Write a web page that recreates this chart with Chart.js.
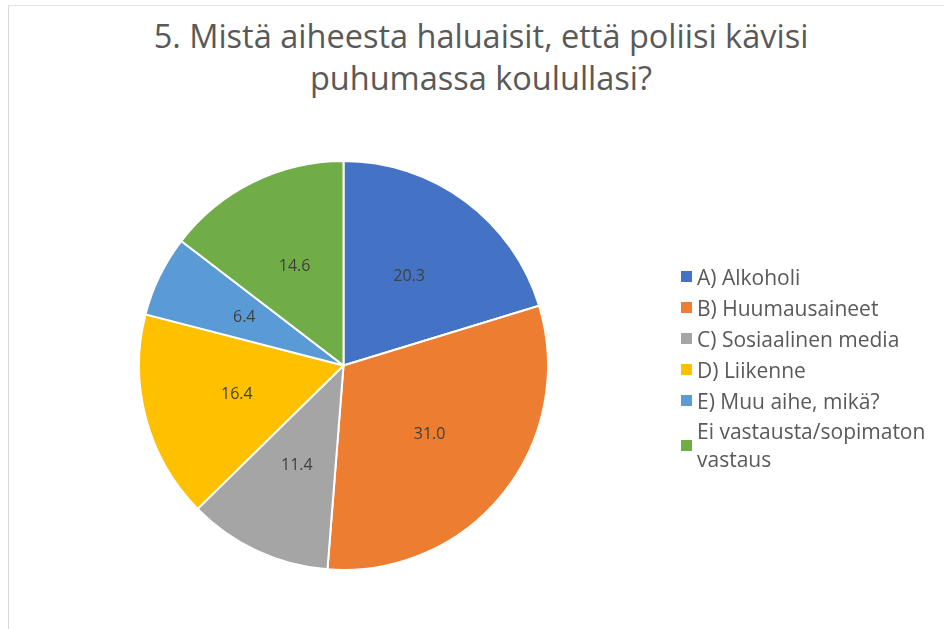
<!DOCTYPE html>
<html>
<head>
<meta charset="utf-8">
<script src="https://cdn.jsdelivr.net/npm/chart.js@4"></script>
<style>
  body { margin: 0; background: #fff; font-family: "Open Sans", Calibri, sans-serif; }
  #wrap { position: relative; width: 944px; height: 629px; overflow: hidden; }
  #frame { position: absolute; left: 8px; top: 5px; width: 960px; height: 640px; border-left: 1px solid #d9d9d9; border-top: 1px solid #e4e4e4; }
  #title { position: absolute; left: 0; top: 15px; width: 962px; text-align: center; color: #595959; font-size: 32.5px; line-height: 42px; }
  #legend { position: absolute; left: 681px; top: 261px; color: #595959; font-size: 21px; }
  .row { display: flex; align-items: center; height: 31px; }
  .sw { width: 11px; height: 11px; margin-right: 5px; flex: none; }
  .row.two { height: 58px; line-height: 28px; }
  canvas { position: absolute; left: 0; top: 0; }
</style>
</head>
<body>
<div id="wrap">
  <div id="frame"></div>
  <div id="title">5. Mistä aiheesta haluaisit, että poliisi kävisi<br>puhumassa koulullasi?</div>
  <canvas id="pieChart" width="944" height="629"></canvas>
  <div id="legend"></div>
</div>
<script>
// chart data
var categories = ['A) Alkoholi', 'B) Huumausaineet', 'C) Sosiaalinen media', 'D) Liikenne', 'E) Muu aihe, mikä?', 'Ei vastausta/sopimaton vastaus'];
var shares = [20.3, 31.0, 11.4, 16.4, 6.4, 14.6];
var sliceColors = ['#4472C4', '#ED7D31', '#A5A5A5', '#FFC000', '#5B9BD5', '#70AD47'];

// draw the value inside each slice
var sliceLabels = {
    id: 'sliceLabels',
    afterDatasetsDraw: function (chart) {
        var ctx = chart.ctx;
        var meta = chart.getDatasetMeta(0);
        ctx.save();
        ctx.font = '16px "Open Sans", sans-serif';
        ctx.fillStyle = '#404040';
        ctx.textAlign = 'center';
        ctx.textBaseline = 'middle';
        meta.data.forEach(function (arc, i) {
            var p = arc.getProps(['x', 'y', 'startAngle', 'endAngle', 'outerRadius'], true);
            var mid = (p.startAngle + p.endAngle) / 2;
            var r = p.outerRadius * 0.54;
            ctx.fillText(shares[i].toFixed(1), p.x + Math.cos(mid) * r, p.y + Math.sin(mid) * r);
        });
        ctx.restore();
    }
};

var pieCtx = document.getElementById('pieChart').getContext('2d');
var pieChart = new Chart(pieCtx, {
    type: 'pie',
    data: {
        labels: categories,
        datasets: [{
            data: shares,
            backgroundColor: sliceColors,
            borderColor: '#ffffff',
            borderWidth: 2
        }]
    },
    options: {
        responsive: false,
        animation: false,
        layout: { padding: { left: 138, right: 395, top: 160, bottom: 58 } },
        plugins: {
            legend: { display: false },
            tooltip: { enabled: false }
        }
    },
    plugins: [sliceLabels]
});

// legend built from the same arrays
var legendBox = document.getElementById('legend');
categories.forEach(function (name, i) {
    var row = document.createElement('div');
    row.className = 'row';
    var sw = document.createElement('span');
    sw.className = 'sw';
    sw.style.background = sliceColors[i];
    var txt = document.createElement('span');
    if (name.indexOf('Ei vastausta') === 0) {
        row.className = 'row two';
        txt.innerHTML = 'Ei vastausta/sopimaton<br>vastaus';
    } else {
        txt.textContent = name;
    }
    row.appendChild(sw);
    row.appendChild(txt);
    legendBox.appendChild(row);
});
</script>
</body>
</html>
